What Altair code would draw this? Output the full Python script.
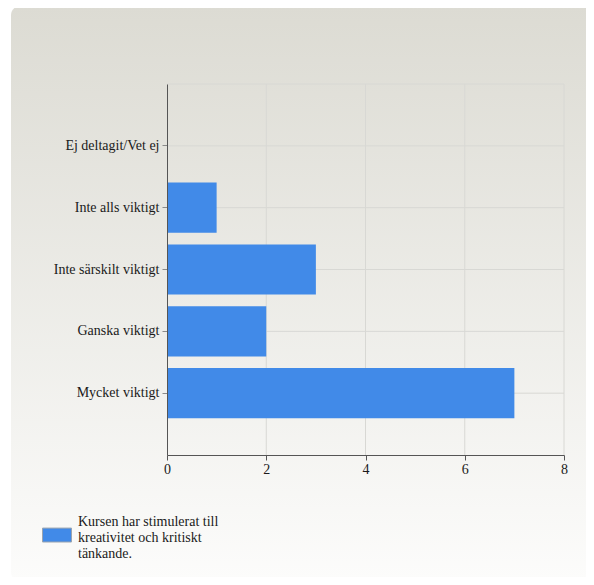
import altair as alt
import pandas as pd

categories = ["Ej deltagit/Vet ej", "Inte alls viktigt", "Inte särskilt viktigt",
              "Ganska viktigt", "Mycket viktigt"]
values = [0, 1, 3, 2, 7]
series_name = "Kursen har stimulerat till\nkreativitet och kritiskt\ntänkande."
x_ticks = [0, 2, 4, 6, 8]

df = pd.DataFrame({"kategori": categories, "antal": values, "serie": [series_name] * len(categories)})
grid_df = pd.DataFrame({"x": x_ticks[1:]})

W, H = 397, 371
BLUE = "#418ae8"
GRID = "#d8d8d4"
FONT = "Liberation Serif"

yscale = alt.Scale(domain=categories, paddingInner=0.19, paddingOuter=0.595)
xscale = alt.Scale(domain=[0, 8], nice=False)

one = alt.Data(values=[{}])

shadow = alt.Chart(one).mark_rect(cornerRadius=9, fill="#c4c4c2").encode(
    x=alt.value(-154), x2=alt.value(424), y=alt.value(-77), y2=alt.value(499)
)
card = alt.Chart(one).mark_rect(
    cornerRadius=9,
    fill=alt.Gradient(
        gradient="linear",
        stops=[alt.GradientStop(color="#dcdbd3", offset=0),
               alt.GradientStop(color="#fcfcfb", offset=1)],
        x1=0, y1=0, x2=0, y2=1,
    ),
).encode(x=alt.value(-156), x2=alt.value(422), y=alt.value(-78), y2=alt.value(497))

vgrid = alt.Chart(grid_df).mark_rule(color=GRID, strokeWidth=1).encode(
    x=alt.X("x:Q", scale=xscale)
)
hgrid = alt.Chart(df).mark_rule(color=GRID, strokeWidth=1).encode(
    y=alt.Y("kategori:N", sort=categories, scale=yscale)
)
top_border = alt.Chart(one).mark_rule(color=GRID, strokeWidth=1).encode(y=alt.value(0))

bars = alt.Chart(df).mark_bar(opacity=1).encode(
    y=alt.Y("kategori:N", sort=categories, scale=yscale,
            axis=alt.Axis(title=None, grid=False, zindex=1, domainColor="#555555",
                          tickColor="#8a8a8a", tickSize=5, labelPadding=3,
                          labelFont=FONT, labelFontSize=14, labelColor="#1a1a1a",
                          labelLimit=300)),
    x=alt.X("antal:Q", scale=xscale,
            axis=alt.Axis(title=None, grid=False, zindex=1, values=x_ticks, format="d",
                          labelFlush=False,
                          domainColor="#555555", tickColor="#555555", tickSize=5,
                          labelPadding=2, labelFont=FONT, labelFontSize=14,
                          labelColor="#1a1a1a")),
    color=alt.Color("serie:N", scale=alt.Scale(range=[BLUE]),
                    legend=alt.Legend(title=None, orient="none", legendX=-125, legendY=423,
                                      symbolType="M-1,0.42H1V1.38H-1Z", symbolSize=841,
                                      symbolStrokeColor="#9aa4b0", symbolStrokeWidth=1,
                                      symbolOpacity=1, labelOffset=6, padding=0,
                                      labelFont=FONT, labelFontSize=14,
                                      labelColor="#1a1a1a", labelLimit=400,
                                      labelExpr="split(datum.label, '\\n')")),
)

chart = alt.layer(shadow, card, vgrid, hgrid, top_border, bars).properties(
    width=W, height=H,
    autosize=alt.AutoSizeParams(type="none"),
    padding={"left": 159, "top": 76, "right": 22, "bottom": 122},
    background="white",
).configure_view(stroke=None)

chart.save("out.html", embed_options={"renderer": "svg", "actions": False})
